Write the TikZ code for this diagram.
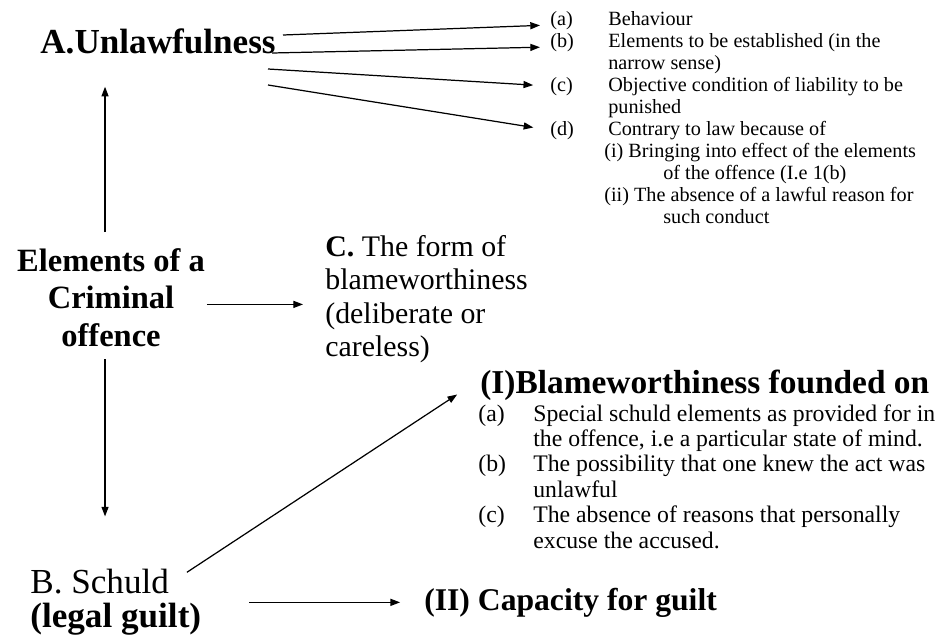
\documentclass[tikz,border=0pt]{standalone}
\usepackage{fontspec}
\setmainfont{Liberation Serif}
\usetikzlibrary{arrows.meta}

\begin{document}
\begin{tikzpicture}[x=0.02cm,y=-0.02cm]
			\tikzstyle{every node}+=[inner sep=0pt]
			\tikzstyle{arr}=[black,line width=0.7pt,-{Triangle[length=5.5pt,width=4pt]}]
			\tikzstyle{bigbold}=[anchor=base west,font=\fontsize{20}{24}\selectfont\bfseries]
			\tikzstyle{smalltxt}=[anchor=base west,font=\fontsize{11.5}{12.3}\selectfont]
			\tikzstyle{midtxt}=[anchor=base west,font=\fontsize{13.5}{14.5}\selectfont]
			\useasboundingbox (0,0) rectangle (949,639);
			\node [bigbold] (unlaw) at (40,53) {A.Unlawfulness};
			\coordinate (u1) at (283,35);
			\coordinate (u2) at (272,53);
			\coordinate (u3) at (268,69);
			\coordinate (u4) at (268,85);
			\node [smalltxt] (la) at (550,25) {(a)};
			\node [smalltxt] (lb) at (550,47) {(b)};
			\node [smalltxt] (lc) at (550,91) {(c)};
			\node [smalltxt] (ld) at (550,135) {(d)};
			\node [smalltxt] (ta1) at (608,25) {Behaviour};
			\node [smalltxt] (tb1) at (608,47) {Elements to be established (in the};
			\node [smalltxt] (tb2) at (608,69) {narrow sense)};
			\node [smalltxt] (tc1) at (608,91) {Objective condition of liability to be};
			\node [smalltxt] (tc2) at (608,113) {punished};
			\node [smalltxt] (td1) at (608,135) {Contrary to law because of};
			\node [smalltxt] (td2) at (604,157) {(i) Bringing into effect of the elements};
			\node [smalltxt] (td3) at (663,179) {of the offence (I.e 1(b)};
			\node [smalltxt] (td4) at (604,201) {(ii) The absence of a lawful reason for};
			\node [smalltxt] (td5) at (663,223) {such conduct};
			\draw [arr,shorten >=5.7pt] (u1) -- (la.base west);
			\draw [arr,shorten >=5.7pt] (u2) -- (lb.base west);
			\draw [arr,shorten >=9.6pt] (u3) -- (lc.west);
			\draw [arr,shorten >=9.6pt] (u4) -- (ld.west);
			\node [anchor=north,align=center,font=\fontsize{18.5}{21.3}\selectfont\bfseries] (elem) at (111,248) {Elements of a\\Criminal\\offence};
			\node [anchor=north west,align=left,font=\fontsize{17}{19}\selectfont] (formc) at (325,235) {\textbf{C.} The form of\\blameworthiness\\(deliberate or\\careless)};
			\node [bigbold,font=\fontsize{19}{22}\selectfont\bfseries] (blame) at (480,393) {(I)Blameworthiness founded on};
			\node [midtxt] (ia) at (478,421) {(a)};
			\node [midtxt] (sa1) at (533,421) {Special schuld elements as provided for in};
			\node [midtxt] (sa2) at (533,446) {the offence, i.e a particular state of mind.};
			\node [midtxt] (ib) at (478,471) {(b)};
			\node [midtxt] (sb1) at (533,471) {The possibility that one knew the act was};
			\node [midtxt] (sb2) at (533,497) {unlawful};
			\node [midtxt] (ic) at (478,522) {(c)};
			\node [midtxt] (sc1) at (533,522) {The absence of reasons that personally};
			\node [midtxt] (sc2) at (533,548) {excuse the accused.};
			\node [anchor=base west,font=\fontsize{20}{24}\selectfont] (schuld) at (30,593) {B. Schuld};
			\node [anchor=base west,font=\fontsize{20}{24}\selectfont\bfseries] (guilt) at (30,627) {(legal guilt)};
			\node [bigbold,font=\fontsize{18}{22}\selectfont\bfseries] (cap) at (424,610) {(II) Capacity for guilt};
			\coordinate (eup) at ([xshift=-3.4pt,yshift=9pt]elem.north);
			\coordinate (edn) at ([xshift=-3.4pt,yshift=-7pt]elem.south);
			\coordinate (eri) at ([xshift=1pt,yshift=-4pt]elem.east);
			\coordinate (bx) at (249,0);
			\draw [arr,shorten >=18.7pt] (eup) -- (eup |- unlaw.south);
			\draw [arr,shorten >=29.5pt] (edn) -- (edn |- schuld.north);
			\draw [arr,shorten >=12.5pt] (eri) -- (eri -| formc.west);
			\draw [arr] ([xshift=10pt,yshift=-2.3pt]schuld.north east) -- ([xshift=-13pt,yshift=3.4pt]blame.south west);
			\draw [arr,shorten >=13.6pt] (bx |- cap.west) -- (cap.west);
\end{tikzpicture}
\end{document}
